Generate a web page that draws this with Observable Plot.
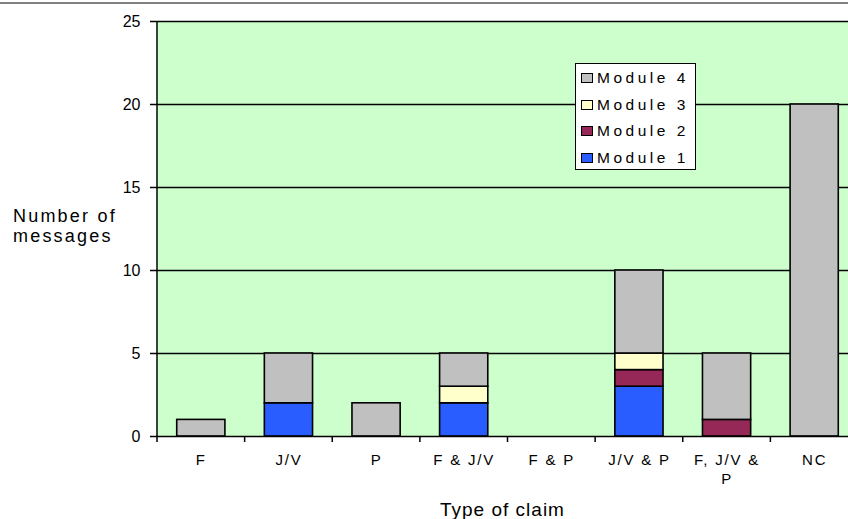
<!DOCTYPE html>
<html><head><meta charset="utf-8">
<script src="https://cdn.jsdelivr.net/npm/d3@7"></script>
<script src="https://cdn.jsdelivr.net/npm/@observablehq/plot@0.6"></script>
<style>
html,body{margin:0;padding:0;background:#fff;overflow:hidden;}
#wrap{position:relative;width:848px;height:519px;overflow:hidden;font-family:"Liberation Sans",Arial,sans-serif;color:#000;}
#wrap svg{position:absolute;left:0;top:0;}
#topline{position:absolute;left:0;top:2px;width:848px;height:2px;background:#808080;}
#ytitle{position:absolute;left:13px;top:206px;font-size:18px;line-height:20px;letter-spacing:2.2px;white-space:pre;}
#xtitle{position:absolute;left:440px;top:499px;font-size:19px;line-height:22px;letter-spacing:1px;white-space:nowrap;}
#legend{position:absolute;left:575px;top:63px;width:119px;height:105px;background:#fff;border:1.5px solid #000;}
.lrow{position:absolute;left:5px;height:20px;display:flex;align-items:center;font-size:15.5px;letter-spacing:3.5px;white-space:nowrap;}
.sw{width:10px;height:8px;border:1px solid #000;margin-right:4px;}
svg [aria-label="x-axis tick label"] text{letter-spacing:1.8px;}
</style></head><body><div id="wrap"></div>
<script>
const categories = ["F", "J/V", "P", "F & J/V", "F & P", "J/V & P", "F, J/V & P", "NC"];
const tickLabels = ["F", "J/V", "P", "F & J/V", "F & P", "J/V & P", "F, J/V &\nP", "NC"];
const modules = ["Module 1", "Module 2", "Module 3", "Module 4"];
const module1 = [0, 2, 0, 2, 0, 3, 0, 0];
const module2 = [0, 0, 0, 0, 0, 1, 1, 0];
const module3 = [0, 0, 0, 1, 0, 1, 0, 0];
const module4 = [1, 3, 2, 2, 0, 5, 4, 20];
const colors = ["#2a5dff", "#962858", "#ffffcc", "#c0c0c0"];
const yTicks = [0, 5, 10, 15, 20, 25];
const gridValues = [5, 10, 15, 20, 25];
const yTitle = "Number of\nmessages";
const xTitle = "Type of claim";

const rows = [];
[module1, module2, module3, module4].forEach((vals, m) =>
  vals.forEach((v, i) => { if (v > 0) rows.push({category: categories[i], module: modules[m], value: v}); })
);

const PAD_INNER = 0.45;

function boundaryTicks(index, scales, values, dimensions) {
  const g = d3.create("svg:g");
  const step = scales.x(categories[1]) - scales.x(categories[0]);
  const y0 = scales.y(0);
  const yTop = scales.y(25);
  const b = categories.map(c => scales.x(c) - step * PAD_INNER / 2);
  b.push(b[b.length - 1] + step);
  g.append("line").attr("x1", b[0]).attr("x2", b[0]).attr("y1", y0).attr("y2", yTop)
    .attr("stroke", "#000").attr("stroke-width", 1.5);
  b.forEach(x => g.append("line").attr("x1", x).attr("x2", x).attr("y1", y0).attr("y2", y0 + 6)
    .attr("stroke", "#000").attr("stroke-width", 1.5));
  return g.node();
}

const chart = Plot.plot({
  width: 848,
  height: 519,
  marginLeft: 157,
  marginRight: 0,
  marginTop: 21,
  marginBottom: 83,
  x: {domain: categories, range: [157, 858], paddingInner: PAD_INNER, paddingOuter: PAD_INNER / 2, round: false},
  y: {domain: [0, 25]},
  color: {domain: modules, range: colors},
  style: {fontFamily: '"Liberation Sans", Arial, sans-serif', background: "transparent", color: "#000"},
  marks: [
    Plot.frame({fill: "#ccffcc", stroke: null}),
    Plot.ruleY(gridValues, {stroke: "#000", strokeWidth: 1.6}),
    Plot.barY(rows, {x: "category", y: "value", fill: "module", stroke: "#000", strokeWidth: 1.6, order: modules}),
    Plot.ruleY([0], {stroke: "#000", strokeWidth: 1.6}),
    Plot.axisY({ticks: yTicks, tickSize: 7, tickPadding: 10, fontSize: 16, label: null, strokeWidth: 1.5, tickFormat: d => String(d)}),
    Plot.axisX({tickSize: 0, tickPadding: 15, fontSize: 15, label: null, lineHeight: 1.27,
      tickFormat: d => tickLabels[categories.indexOf(d)]}),
    boundaryTicks
  ]
});

const wrap = document.getElementById("wrap");
wrap.appendChild(chart);

const topLine = document.createElement("div"); topLine.id = "topline"; wrap.appendChild(topLine);
const yt = document.createElement("div"); yt.id = "ytitle"; yt.textContent = yTitle; wrap.appendChild(yt);
const xt = document.createElement("div"); xt.id = "xtitle"; xt.textContent = xTitle; wrap.appendChild(xt);

const legend = document.createElement("div"); legend.id = "legend";
const legendOrder = [3, 2, 1, 0];
legendOrder.forEach((m, k) => {
  const row = document.createElement("div"); row.className = "lrow";
  row.style.top = (4 + k * 26.7) + "px";
  const sw = document.createElement("span"); sw.className = "sw"; sw.style.background = colors[m];
  const t = document.createElement("span"); t.textContent = modules[m];
  row.appendChild(sw); row.appendChild(t); legend.appendChild(row);
});
wrap.appendChild(legend);
</script></body></html>
